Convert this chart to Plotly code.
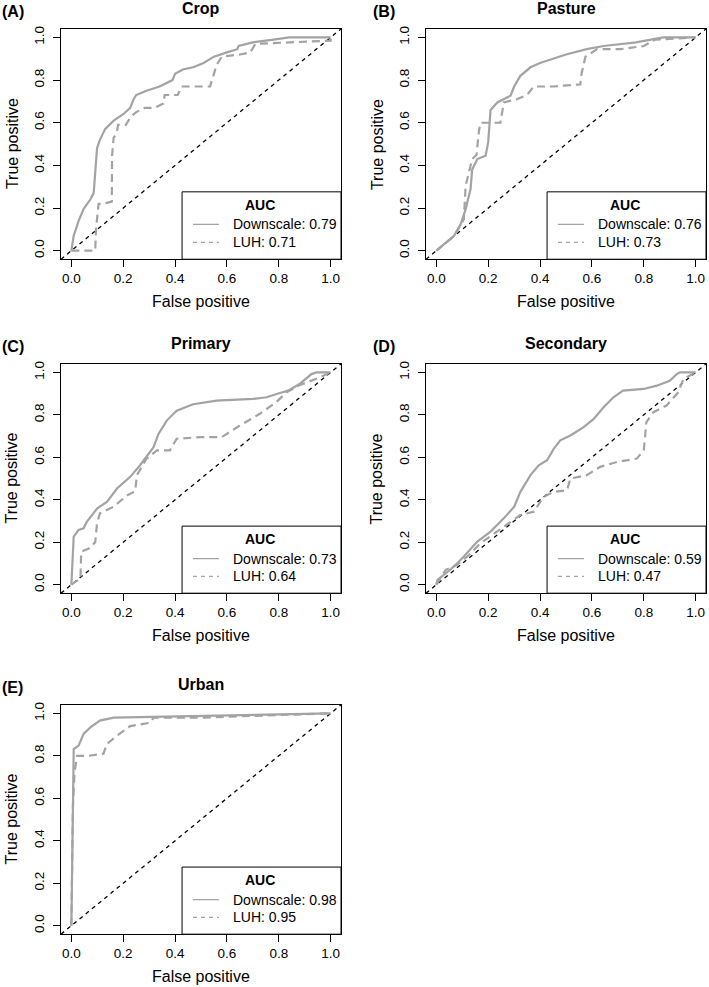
import plotly.graph_objects as go

# ---------------- data ----------------
panel_letters = ["(A)", "(B)", "(C)", "(D)", "(E)"]
panel_titles = ["Crop", "Pasture", "Primary", "Secondary", "Urban"]
auc_downscale = ["0.79", "0.76", "0.73", "0.59", "0.98"]
auc_luh = ["0.71", "0.73", "0.64", "0.47", "0.95"]

tick_vals = [0.0, 0.2, 0.4, 0.6, 0.8, 1.0]
tick_text = ["0.0", "0.2", "0.4", "0.6", "0.8", "1.0"]
diag_line = [-0.04, 1.04]

crop_ds_fpr = [0, 0.009, 0.028, 0.047, 0.073, 0.086, 0.099, 0.11, 0.13, 0.163, 0.2, 0.227, 0.24, 0.25, 0.29, 0.34, 0.39, 0.40, 0.43, 0.47, 0.51, 0.55, 0.60, 0.64, 0.645, 0.70, 0.78, 0.84, 1.0]
crop_ds_tpr = [0, 0.07, 0.14, 0.195, 0.24, 0.27, 0.48, 0.52, 0.57, 0.61, 0.64, 0.67, 0.71, 0.73, 0.75, 0.77, 0.80, 0.83, 0.85, 0.86, 0.88, 0.91, 0.93, 0.945, 0.96, 0.977, 0.99, 1.0, 1.0]
crop_luh_fpr = [0, 0.092, 0.095, 0.105, 0.12, 0.156, 0.157, 0.163, 0.175, 0.18, 0.21, 0.23, 0.25, 0.285, 0.32, 0.355, 0.36, 0.41, 0.425, 0.535, 0.56, 0.58, 0.65, 0.69, 0.71, 0.83, 1.0, 1.0]
crop_luh_tpr = [0, 0, 0.1, 0.22, 0.22, 0.23, 0.445, 0.53, 0.55, 0.59, 0.59, 0.63, 0.65, 0.67, 0.67, 0.69, 0.73, 0.73, 0.77, 0.77, 0.87, 0.91, 0.92, 0.93, 0.97, 0.977, 0.985, 1.0]

pasture_ds_fpr = [0, 0.03, 0.068, 0.094, 0.113, 0.132, 0.138, 0.158, 0.19, 0.2, 0.209, 0.235, 0.26, 0.286, 0.3, 0.324, 0.363, 0.40, 0.45, 0.50, 0.58, 0.645, 0.77, 0.875, 1.0]
pasture_ds_tpr = [0, 0.03, 0.07, 0.125, 0.195, 0.29, 0.38, 0.43, 0.445, 0.51, 0.66, 0.695, 0.71, 0.727, 0.77, 0.82, 0.86, 0.88, 0.90, 0.92, 0.945, 0.96, 0.977, 1.0, 1.0]
pasture_luh_fpr = [0, 0.04, 0.07, 0.106, 0.113, 0.138, 0.155, 0.164, 0.17, 0.247, 0.26, 0.31, 0.35, 0.375, 0.45, 0.555, 0.56, 0.575, 0.62, 0.71, 0.80, 0.845, 1.0]
pasture_luh_tpr = [0, 0.04, 0.07, 0.148, 0.305, 0.43, 0.45, 0.56, 0.6, 0.6, 0.695, 0.71, 0.73, 0.77, 0.77, 0.78, 0.83, 0.91, 0.945, 0.945, 0.96, 0.99, 1.0]

primary_ds_fpr = [0, 0.003, 0.009, 0.028, 0.047, 0.06, 0.1, 0.137, 0.176, 0.227, 0.265, 0.317, 0.336, 0.368, 0.406, 0.47, 0.56, 0.70, 0.753, 0.804, 0.836, 0.88, 0.926, 0.945, 1.0]
primary_ds_tpr = [0, 0.11, 0.226, 0.258, 0.266, 0.297, 0.36, 0.39, 0.453, 0.508, 0.5625, 0.648, 0.71, 0.773, 0.82, 0.85, 0.867, 0.875, 0.883, 0.903, 0.914, 0.945, 0.992, 1.0, 1.0]
primary_luh_fpr = [0, 0.035, 0.038, 0.067, 0.092, 0.099, 0.11, 0.163, 0.214, 0.246, 0.253, 0.29, 0.33, 0.38, 0.406, 0.496, 0.58, 0.65, 0.727, 0.79, 0.83, 0.88, 0.945, 1.0]
primary_luh_tpr = [0, 0.03, 0.156, 0.17, 0.2, 0.29, 0.336, 0.367, 0.42, 0.44, 0.516, 0.594, 0.633, 0.633, 0.6875, 0.695, 0.695, 0.75, 0.805, 0.86, 0.906, 0.94, 0.97, 1.0]

secondary_ds_fpr = [0, 0.004, 0.03, 0.068, 0.106, 0.158, 0.209, 0.26, 0.3, 0.324, 0.363, 0.395, 0.427, 0.4526, 0.478, 0.517, 0.568, 0.606, 0.645, 0.683, 0.72, 0.8, 0.85, 0.9, 0.927, 0.94, 1.0]
secondary_ds_tpr = [0, 0.023, 0.047, 0.086, 0.133, 0.203, 0.25, 0.3125, 0.367, 0.4375, 0.516, 0.5625, 0.586, 0.64, 0.68, 0.703, 0.742, 0.78, 0.836, 0.883, 0.914, 0.922, 0.9375, 0.96, 0.992, 1.0, 1.0]
secondary_luh_fpr = [0, 0.015, 0.036, 0.08, 0.126, 0.17, 0.235, 0.286, 0.324, 0.376, 0.414, 0.4526, 0.504, 0.517, 0.58, 0.632, 0.696, 0.773, 0.8, 0.81, 0.837, 0.888, 0.933, 0.953, 1.0]
secondary_luh_tpr = [0, 0.03, 0.07, 0.094, 0.14, 0.195, 0.25, 0.297, 0.328, 0.344, 0.414, 0.4375, 0.445, 0.5, 0.516, 0.555, 0.578, 0.594, 0.633, 0.766, 0.8125, 0.844, 0.906, 0.969, 1.0]

urban_ds_fpr = [0, 0.003, 0.006, 0.009, 0.028, 0.047, 0.073, 0.11, 0.163, 0.37, 0.753, 1.0]
urban_ds_tpr = [0, 0.246, 0.6, 0.832, 0.848, 0.903, 0.934, 0.966, 0.98, 0.984, 0.994, 1.0]
urban_luh_fpr = [0, 0.004, 0.006, 0.012, 0.022, 0.067, 0.124, 0.137, 0.176, 0.227, 0.304, 0.317, 0.5, 1.0]
urban_luh_tpr = [0, 0.3, 0.56, 0.72, 0.8, 0.8, 0.81, 0.856, 0.895, 0.94, 0.956, 0.98, 0.98, 1.0]

ds_fpr = [crop_ds_fpr, pasture_ds_fpr, primary_ds_fpr, secondary_ds_fpr, urban_ds_fpr]
ds_tpr = [crop_ds_tpr, pasture_ds_tpr, primary_ds_tpr, secondary_ds_tpr, urban_ds_tpr]
luh_fpr = [crop_luh_fpr, pasture_luh_fpr, primary_luh_fpr, secondary_luh_fpr, urban_luh_fpr]
luh_tpr = [crop_luh_tpr, pasture_luh_tpr, primary_luh_tpr, secondary_luh_tpr, urban_luh_tpr]

# ---------------- layout geometry ----------------
W, H = 709, 987
FONT = "Liberation Sans, Arial, Helvetica, sans-serif"
GRAY = "#a3a3a3"
# plot boxes in pixels: left, top, right, bottom
boxes = [(61, 26, 341, 257), (426, 26, 706, 257),
         (61, 362, 341, 592), (426, 362, 706, 592),
         (61, 704, 341, 934)]
letter_x = [0, 371, 0, 371, 0]


def px(x):
    return x / W


def py(y):
    return 1 - y / H


fig = go.Figure()
annotations = []
shapes = []

for i in range(5):
    n = "" if i == 0 else str(i + 1)
    xa, ya = "x" + n, "y" + n
    l, t, r, b = boxes[i]

    fig.add_trace(go.Scatter(x=diag_line, y=diag_line, mode="lines",
                             line=dict(color="black", width=1.3, dash="4px,4px"),
                             xaxis=xa, yaxis=ya, showlegend=False, hoverinfo="skip"))
    fig.add_trace(go.Scatter(x=luh_fpr[i], y=luh_tpr[i], mode="lines",
                             line=dict(color=GRAY, width=2.2, dash="8px,5px"),
                             name="LUH: " + auc_luh[i],
                             xaxis=xa, yaxis=ya, showlegend=False))
    fig.add_trace(go.Scatter(x=ds_fpr[i], y=ds_tpr[i], mode="lines",
                             line=dict(color=GRAY, width=2.2),
                             name="Downscale: " + auc_downscale[i],
                             xaxis=xa, yaxis=ya, showlegend=False))

    axis_common = dict(range=[-0.04, 1.04], tickvals=tick_vals, ticktext=tick_text,
                       ticks="outside", ticklen=7, tickwidth=1, tickcolor="black",
                       showline=True, linecolor="black", linewidth=1, mirror=True,
                       showgrid=False, zeroline=False,
                       tickfont=dict(family=FONT, size=13.5, color="black"))
    fig.update_layout({
        "xaxis" + n: dict(domain=[px(l), px(r)], anchor=ya, **axis_common),
        "yaxis" + n: dict(domain=[py(b), py(t)], anchor=xa, tickangle=-90,
                          ticklabelstandoff=4, **axis_common),
    })

    # titles
    annotations.append(dict(x=px((l + r) / 2), y=py(t - 20), xref="paper", yref="paper",
                            text="<b>" + panel_titles[i] + "</b>", showarrow=False,
                            xanchor="center", yanchor="middle",
                            font=dict(family=FONT, size=16, color="black")))
    annotations.append(dict(x=px(letter_x[i]), y=py(t - 17), xref="paper", yref="paper",
                            text="<b>" + panel_letters[i] + "</b>", showarrow=False,
                            xanchor="left", yanchor="middle",
                            font=dict(family=FONT, size=16, color="black")))
    # axis titles
    annotations.append(dict(x=px((l + r) / 2), y=py(b + 42), xref="paper", yref="paper",
                            text="False positive", showarrow=False,
                            xanchor="center", yanchor="middle",
                            font=dict(family=FONT, size=16, color="black")))
    annotations.append(dict(x=px(l - 49), y=py((t + b) / 2), xref="paper", yref="paper",
                            text="True positive", showarrow=False, textangle=-90,
                            xanchor="center", yanchor="middle",
                            font=dict(family=FONT, size=16, color="black")))

    # legend box (AUC)
    shapes.append(dict(type="rect", xref=xa, yref=ya, x0=0.427, x1=1.04, y0=-0.04, y1=0.276,
                       fillcolor="white", line=dict(color="black", width=1), layer="above"))
    shapes.append(dict(type="line", xref=xa, yref=ya, x0=0.469, x1=0.569, y0=0.123, y1=0.123,
                       line=dict(color=GRAY, width=1.2), layer="above"))
    shapes.append(dict(type="line", xref=xa, yref=ya, x0=0.469, x1=0.569, y0=0.039, y1=0.039,
                       line=dict(color=GRAY, width=1.2, dash="4px,4px"), layer="above"))
    annotations.append(dict(x=0.727, y=0.216, xref=xa, yref=ya, text="<b>AUC</b>",
                            showarrow=False, xanchor="center", yanchor="middle",
                            font=dict(family=FONT, size=14, color="black")))
    annotations.append(dict(x=0.615, y=0.123, xref=xa, yref=ya,
                            text="Downscale: " + auc_downscale[i],
                            showarrow=False, xanchor="left", yanchor="middle",
                            font=dict(family=FONT, size=14, color="black")))
    annotations.append(dict(x=0.615, y=0.039, xref=xa, yref=ya,
                            text="LUH: " + auc_luh[i],
                            showarrow=False, xanchor="left", yanchor="middle",
                            font=dict(family=FONT, size=14, color="black")))

fig.update_layout(width=W, height=H, margin=dict(l=0, r=0, t=0, b=0),
                  paper_bgcolor="white", plot_bgcolor="white",
                  annotations=annotations, shapes=shapes,
                  font=dict(family=FONT, color="black"))

fig.write_html("out.html", config={"displayModeBar": False},
               post_script="document.body.style.margin='0px';document.body.style.overflow='hidden';")
